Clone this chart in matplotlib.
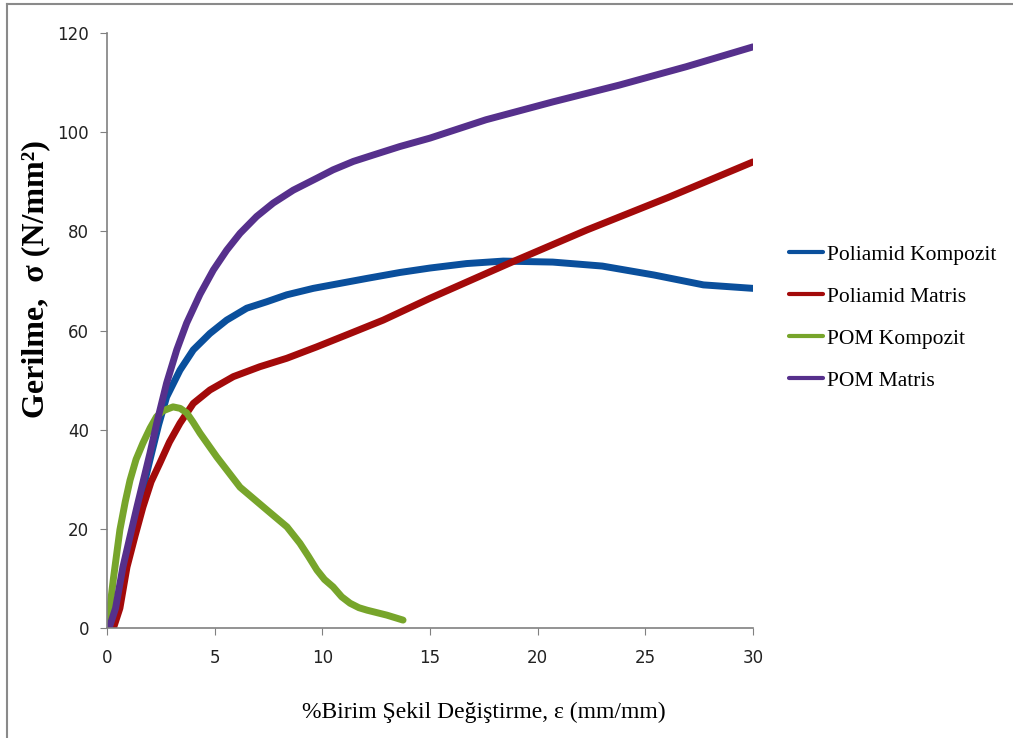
import matplotlib.pyplot as plt
from matplotlib.lines import Line2D

# values
pa_komp_x = [0.2, 0.5, 0.85, 1.45, 2.0, 2.4, 2.77, 3.39, 4.01, 4.78, 5.56, 6.49, 7.42, 8.35, 9.58,
             10.82, 12.06, 13.6, 15.0, 16.7, 18.4, 20.7, 23.0, 25.4, 27.7, 30.0]
pa_komp_y = [0, 4, 12, 24, 34, 41, 46.6, 52.0, 56.1, 59.4, 62.1, 64.5, 65.8, 67.2, 68.5,
             69.5, 70.5, 71.7, 72.6, 73.5, 74.0, 73.8, 73.0, 71.2, 69.2, 68.5]

pa_mat_x = [0.3, 0.6, 0.93, 1.3, 1.67, 2.05, 2.46, 2.9, 3.39, 4.01, 4.78, 5.87, 7.1, 8.35, 9.74,
            11.29, 12.83, 15.0, 18.7, 22.3, 26.1, 30.0]
pa_mat_y = [0, 4, 12.3, 18.5, 24.4, 29.5, 33.3, 37.5, 41.3, 45.3, 48.0, 50.7, 52.7, 54.4, 56.7,
            59.4, 62.1, 66.5, 73.6, 80.3, 86.9, 94.0]

pom_komp_x = [0.05, 0.3, 0.6, 0.85, 1.07, 1.35, 1.67, 2.0, 2.3, 2.6, 3.07, 3.4, 3.7, 4.0, 4.32,
              5.1, 6.18, 7.43, 8.36, 8.96, 9.35, 9.75, 10.1, 10.5, 10.9, 11.29, 11.7, 12.08, 13.0, 13.75]
pom_komp_y = [1, 10, 19.8, 25.5, 29.8, 34, 37.3, 40.3, 42.6, 43.8, 44.6, 44.3, 43.4, 41.5, 39.3,
              34.5, 28.4, 23.8, 20.4, 17.1, 14.5, 11.7, 9.8, 8.3, 6.3, 5.0, 4.1, 3.6, 2.6, 1.6]

pom_mat_x = [0.1, 0.4, 0.74, 1.39, 2.0, 2.31, 2.77, 3.24, 3.7, 4.32, 4.94, 5.56, 6.18, 6.95, 7.72,
             8.65, 9.74, 10.5, 11.44, 12.37, 13.6, 15.0, 17.6, 20.7, 23.8, 26.9, 30.0]
pom_mat_y = [0, 4, 12.3, 24.4, 35.3, 41.3, 49.4, 56.1, 61.5, 67.3, 72.2, 76.2, 79.6, 83.0, 85.7,
             88.3, 90.7, 92.4, 94.1, 95.4, 97.1, 98.8, 102.5, 106.1, 109.5, 113.2, 117.2]

labels = ['Poliamid Kompozit', 'Poliamid Matris', 'POM Kompozit', 'POM Matris']
colors = ['#0a4f9c', '#a30a0a', '#77a52b', '#56308c']

fig = plt.figure(figsize=(10.13, 7.38), dpi=100)
ax = fig.add_axes([0.1056, 0.149, 0.6377, 0.8063])

series = [(pa_komp_x, pa_komp_y), (pa_mat_x, pa_mat_y), (pom_komp_x, pom_komp_y), (pom_mat_x, pom_mat_y)]
for (x, y), lab, c in zip(series, labels, colors):
    ax.plot(x, y, color=c, lw=5, label=lab, solid_capstyle='round', solid_joinstyle='round')

ax.set_xlim(0, 30)
ax.set_ylim(0, 120)
ax.set_xticks(range(0, 31, 5))
ax.set_yticks(range(0, 121, 20))
for s in ['top', 'right']:
    ax.spines[s].set_visible(False)
for s in ['left', 'bottom']:
    ax.spines[s].set_color('#808080')
    ax.spines[s].set_linewidth(1.2)
ax.tick_params(direction='out', length=5, color='#808080', labelsize=12, labelcolor='#222222')
ax.tick_params(axis='x', pad=10)
ax.tick_params(axis='y', pad=8)
for t in ax.get_xticklabels() + ax.get_yticklabels():
    t.set_family(['Liberation Sans Narrow', 'DejaVu Sans'])

fig.text(0.478, 0.035, '%Birim Şekil Değiştirme, ε (mm/mm)', family='Liberation Serif',
         fontsize=17, ha='center', va='center')
fig.text(0.0355, 0.622, 'Gerilme,  σ (N/mm²)', family='Liberation Serif', fontsize=23,
         fontweight='bold', rotation=90, ha='center', va='center')

leg = ax.legend(loc='upper left', bbox_to_anchor=(0.770, 0.680), bbox_transform=fig.transFigure,
                frameon=False, prop={'family': 'Liberation Serif', 'size': 15.5},
                handlelength=1.6, handletextpad=0.2, labelspacing=1.02, borderaxespad=0)
for h in leg.get_lines():
    h.set_linewidth(3)

# thin frame round the picture (top and left edges visible)
fig.add_artist(Line2D([0.007, 1.0], [0.9946, 0.9946], color='#8a8a8a', lw=1.5, transform=fig.transFigure))
fig.add_artist(Line2D([0.007, 0.007], [0.0, 0.9946], color='#8a8a8a', lw=1.5, transform=fig.transFigure))

fig.savefig('out.png', dpi=100)
